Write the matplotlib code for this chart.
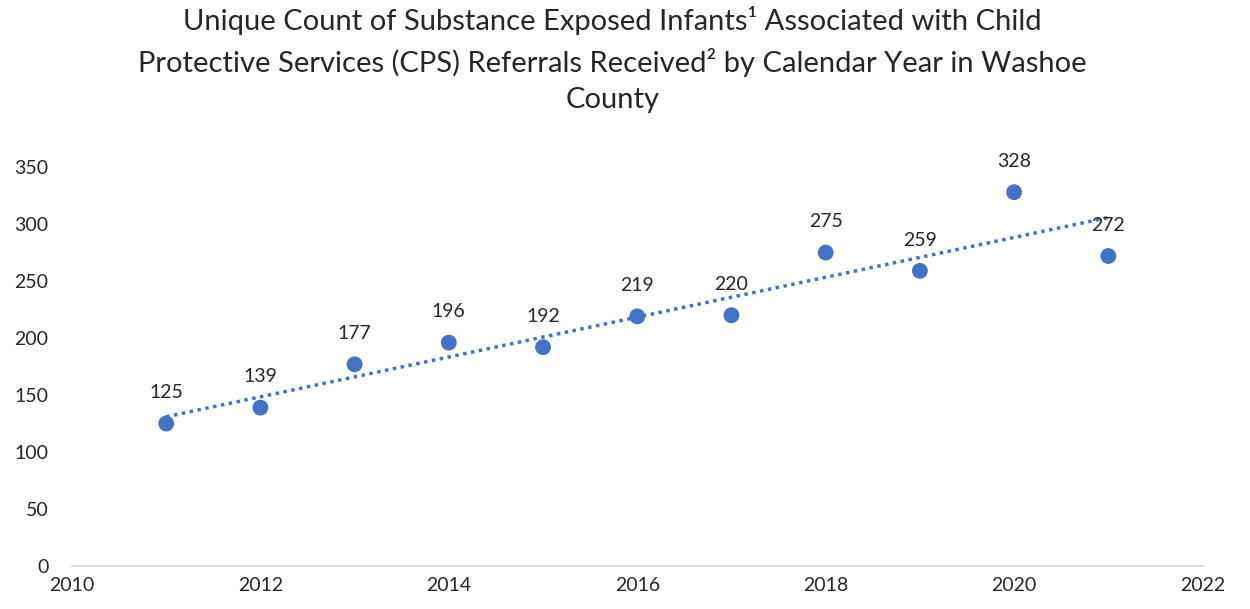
import matplotlib
matplotlib.use("Agg")
import matplotlib.pyplot as plt
import numpy as np

years = [2011, 2012, 2013, 2014, 2015, 2016, 2017, 2018, 2019, 2020, 2021]
counts = [125, 139, 177, 196, 192, 219, 220, 275, 259, 328, 272]
title = ("Unique Count of Substance Exposed Infants\u00b9 Associated with Child\n"
         "Protective Services (CPS) Referrals Received\u00b2 by Calendar Year in Washoe\n"
         "County")

plt.rcParams['font.family'] = ['Lato', 'DejaVu Sans']
color = '#4472C4'

fig = plt.figure(figsize=(12.5, 6.09), dpi=100)
ax = fig.add_axes([0.0576, 0.0706, 0.9044, 0.655])

ax.scatter(years, counts, s=130, color=color, zorder=3, edgecolors='none')
coef = np.polyfit(years, counts, 1)
xs = np.array([years[0], years[-1]])
ax.plot(xs, np.polyval(coef, xs), linestyle=(0, (1, 1.3)), color=color, linewidth=2.5, zorder=2)

for x, y in zip(years, counts):
    ax.annotate(str(y), (x, y), xytext=(0, 16), textcoords='offset points',
                ha='center', va='bottom', fontsize=14, color='#262626')

ax.set_xlim(2010, 2022)
ax.set_ylim(0, 350)
ax.set_xticks(range(2010, 2023, 2))
ax.set_yticks(range(0, 351, 50))
for s in ['top', 'right', 'left']:
    ax.spines[s].set_visible(False)
ax.spines['bottom'].set_color('#D9D9D9')
ax.spines['bottom'].set_linewidth(1.2)
ax.tick_params(axis='both', length=0, labelsize=14, colors='#262626', pad=8)
ax.tick_params(axis='y', pad=17)

fig.text(0.49, 0.99, title, ha='center', va='top', fontsize=21, color='#262626', linespacing=1.52)

fig.savefig('out.png', dpi=100)
